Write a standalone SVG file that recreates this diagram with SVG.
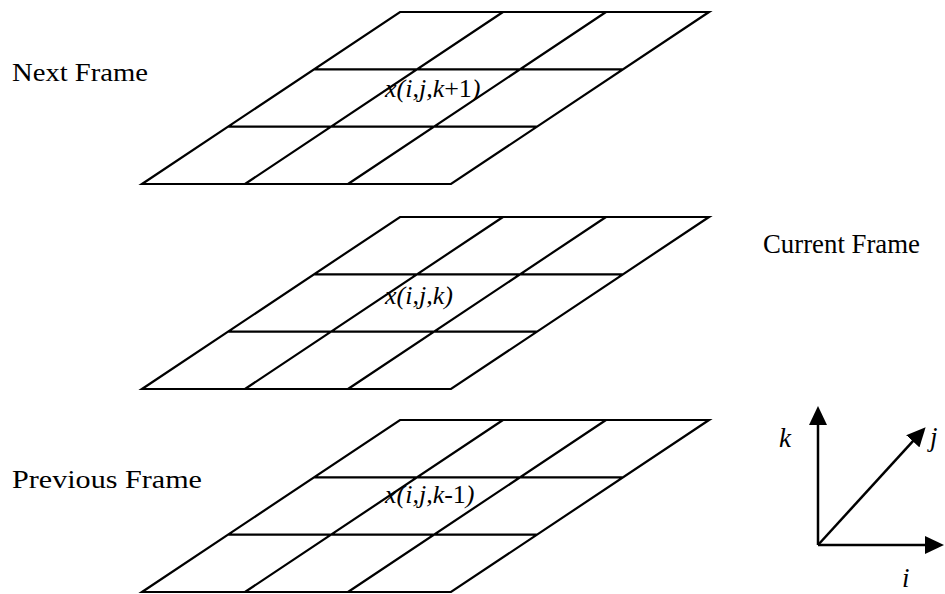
<svg xmlns="http://www.w3.org/2000/svg" width="945" height="594" viewBox="0 0 945 594">
  <style>
    .grid { fill: none; stroke: #000; stroke-width: 2.2; stroke-linejoin: miter; }
    .cell { font-family: "Liberation Serif", "Times New Roman", serif; font-size: 26px; font-style: italic; fill: #000; }
    .up { font-style: normal; }
    .frame { font-family: "Liberation Serif", "Times New Roman", serif; font-size: 25px; fill: #000; }
    .frame2 { font-family: "Liberation Serif", "Times New Roman", serif; font-size: 27px; fill: #000; }
    .axislbl { font-family: "Liberation Serif", "Times New Roman", serif; font-size: 27px; font-style: italic; fill: #000; }
    .axis { fill: none; stroke: #000; stroke-width: 2.5; }
  </style>
  <defs>
    <marker id="arrow" markerUnits="userSpaceOnUse" markerWidth="19" markerHeight="18" refX="8" refY="9" orient="auto">
      <path d="M0,0 L19,9 L0,18 Z" fill="#000"/>
    </marker>
    <path id="gridShape" d="M400,0 H709 L451,172 H142 Z M314,57.3 H623 M228,114.7 H537 M503,0 L245,172 M606,0 L348,172"/>
  </defs>
  <rect width="945" height="594" fill="#fff"/>

  <g id="next-frame">
    <use href="#gridShape" class="grid" transform="translate(0,12)"/>
    <text class="cell" x="385" y="97">x(i,j,k<tspan class="up">+1</tspan>)</text>
    <text class="frame" x="12" y="81" textLength="136" lengthAdjust="spacingAndGlyphs">Next Frame</text>
  </g>

  <g id="current-frame">
    <use href="#gridShape" class="grid" transform="translate(0,217)"/>
    <text class="cell" x="385" y="304">x(i,j,k)</text>
    <text class="frame2" x="763" y="253" textLength="157" lengthAdjust="spacingAndGlyphs">Current Frame</text>
  </g>

  <g id="previous-frame">
    <use href="#gridShape" class="grid" transform="translate(0,420)"/>
    <text class="cell" x="385" y="503">x(i,j,k<tspan class="up">-1</tspan>)</text>
    <text class="frame" x="12" y="488" textLength="190" lengthAdjust="spacingAndGlyphs">Previous Frame</text>
  </g>

  <g id="connectors">
    <path class="axis" d="M818,545 V417" marker-end="url(#arrow)"/>
    <path class="axis" d="M818,545 H933" marker-end="url(#arrow)"/>
    <path class="axis" d="M818,545 L918.2,435.4" marker-end="url(#arrow)"/>
  </g>

  <g id="axis-labels">
    <text class="axislbl" x="779" y="447">k</text>
    <text class="axislbl" x="930" y="446">j</text>
    <text class="axislbl" x="902" y="587">i</text>
  </g>
</svg>
